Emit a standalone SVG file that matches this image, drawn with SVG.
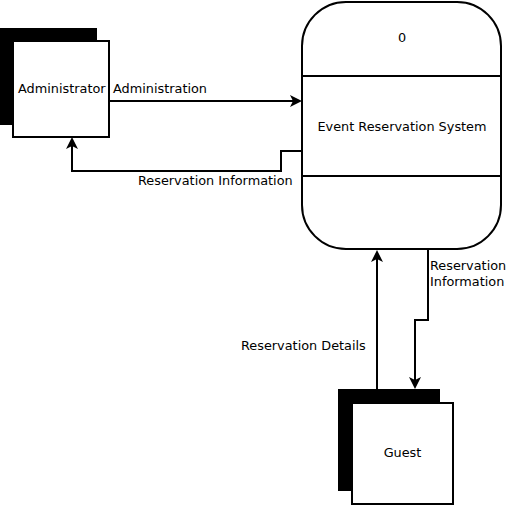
<svg xmlns="http://www.w3.org/2000/svg" width="508" height="506" viewBox="0 0 508 506">
<defs>
<style>
text{font-family:"DejaVu Sans",sans-serif;font-size:12.85px;fill:#000}
.box{fill:#fff;stroke:#000;stroke-width:2}
.sh{fill:#000}
.ln{fill:none;stroke:#000;stroke-width:2}
</style>
<marker id="arr" markerWidth="12" markerHeight="12" refX="10" refY="6" orient="auto" markerUnits="userSpaceOnUse">
<path d="M0,0 L12,6 L0,12 L3,6 Z" fill="#000"/>
</marker>
</defs>
<rect width="508" height="506" fill="#fff"/>
<g id="connectors">
<line class="ln" x1="109" y1="101" x2="300" y2="101" marker-end="url(#arr)"/>
<text x="113" y="93">Administration</text>
<polyline class="ln" points="302,151 281,151 281,171 72,171 72,139" marker-end="url(#arr)"/>
<text x="138" y="185">Reservation Information</text>
<line class="ln" x1="377" y1="389" x2="377" y2="252" marker-end="url(#arr)"/>
<text x="241" y="350">Reservation Details</text>
<polyline class="ln" points="428,250 428,320 415,320 415,387" marker-end="url(#arr)"/>
<text x="430" y="270">Reservation</text>
<text x="430" y="286">Information</text>
</g>
<g id="administrator">
<rect class="sh" x="0" y="28" width="97" height="97"/>
<rect class="box" x="13" y="41" width="96" height="96"/>
<text x="18" y="93">Administrator</text>
</g>
<g id="process">
<rect class="box" x="302" y="2" width="199" height="247" rx="44" ry="44"/>
<line class="ln" x1="302" y1="76" x2="501" y2="76"/>
<line class="ln" x1="302" y1="176" x2="501" y2="176"/>
<text x="402" y="42" text-anchor="middle">0</text>
<text x="402" y="131" text-anchor="middle">Event Reservation System</text>
</g>
<g id="guest">
<rect class="sh" x="338" y="389" width="102" height="102"/>
<rect class="box" x="352" y="403" width="101" height="101"/>
<text x="402.5" y="457" text-anchor="middle">Guest</text>
</g>
</svg>
